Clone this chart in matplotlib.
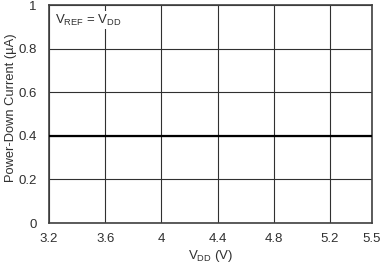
import matplotlib
matplotlib.use("Agg")
import matplotlib.pyplot as plt

plt.rcParams["font.family"] = ["Liberation Sans", "DejaVu Sans"]
plt.rcParams["mathtext.fontset"] = "custom"
plt.rcParams["mathtext.rm"] = "Liberation Sans"

vdd = [3.2, 3.6, 4.0, 4.4, 4.8, 5.2, 5.5]
current = [0.4, 0.4, 0.4, 0.4, 0.4, 0.4, 0.4]
xticks = [3.2, 3.6, 4.0, 4.4, 4.8, 5.2, 5.5]
xlabels = ["3.2", "3.6", "4", "4.4", "4.8", "5.2", "5.5"]
yticks = [0, 0.2, 0.4, 0.6, 0.8, 1.0]
ylabels = ["0", "0.2", "0.4", "0.6", "0.8", "1"]

fig = plt.figure(figsize=(3.81, 2.64), dpi=100)
ax = fig.add_axes([49 / 381, 1 - 223 / 264, 323 / 381, 218 / 264])

ax.plot(vdd, current, color="black", lw=1.6, zorder=3)
ax.set_xlim(3.2, 5.5)
ax.set_ylim(0, 1)
ax.set_xticks(xticks, xlabels)
ax.set_yticks(yticks, ylabels)
ax.grid(color="#303030", lw=0.8)
ax.tick_params(length=0, labelsize=9.5, colors="#303030")
ax.tick_params(axis="x", pad=7)
ax.tick_params(axis="y", pad=9)
for s in ax.spines.values():
    s.set_color("#404040")
    s.set_linewidth(1.2)

ax.set_xlabel(r"V$_{\rm DD}$ (V)", fontsize=9.5, labelpad=2, color="#303030")
ax.set_ylabel("Power-Down Current (\u00b5A)", fontsize=9.3, color="#303030")
ax.yaxis.set_label_coords(-0.1, 0.53)
ax.text(0.02, 0.965, r"V$_{\rm REF}$ = V$_{\rm DD}$", transform=ax.transAxes,
        fontsize=9.5, va="top", ha="left", zorder=4, color="#303030",
        bbox=dict(facecolor="white", edgecolor="none", pad=1))

fig.savefig("out.png", dpi=100)
